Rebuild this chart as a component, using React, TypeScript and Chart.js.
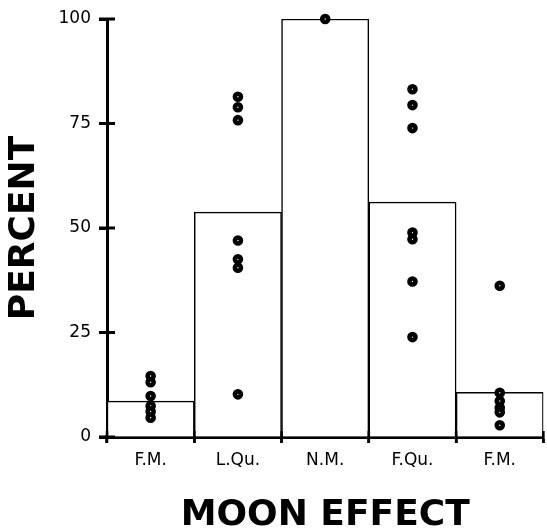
import React, { useEffect, useRef } from "react";
import { Chart, registerables } from "chart.js";

Chart.register(...registerables);

// ---- data ----
const categories = ["F.M.", "L.Qu.", "N.M.", "F.Qu.", "F.M."];
const barValues = [8.6, 53.8, 100, 56.2, 10.7];
const fullMoonAPoints = [14.6, 13.1, 9.8, 7.4, 6.1, 4.6];
const lastQuarterPoints = [81.4, 78.9, 75.8, 47.0, 42.5, 40.5, 10.2];
const newMoonPoints = [100];
const firstQuarterPoints = [83.2, 79.4, 73.9, 48.9, 47.3, 37.2, 23.9];
const fullMoonBPoints = [36.2, 10.6, 8.6, 7.0, 5.9, 2.8];
const yTicks = [0, 25, 50, 75, 100];
const xTitle = "MOON EFFECT";
const yTitle = "PERCENT";

const pointGroups = [fullMoonAPoints, lastQuarterPoints, newMoonPoints, firstQuarterPoints, fullMoonBPoints];

const crossTicks = {
  id: "crossTicks",
  afterDraw(chart: any) {
    const { ctx, scales, chartArea } = chart;
    const x = scales.x;
    const y = scales.y;
    ctx.save();
    ctx.strokeStyle = "#000";
    ctx.lineCap = "butt";
    ctx.lineWidth = 3;
    y.ticks.forEach((t: any) => {
      const py = y.getPixelForValue(t.value);
      ctx.beginPath();
      ctx.moveTo(chartArea.left - 8, py);
      ctx.lineTo(chartArea.left + 8, py);
      ctx.stroke();
    });
    ctx.lineWidth = 2.5;
    for (let i = 0; i <= categories.length; i++) {
      const px = x.getPixelForValue(i - 0.5);
      ctx.beginPath();
      ctx.moveTo(px, chartArea.bottom - 6);
      ctx.lineTo(px, chartArea.bottom + 6);
      ctx.stroke();
    }
    ctx.restore();
  },
};

export default function App() {
  const ref = useRef<HTMLCanvasElement | null>(null);

  useEffect(() => {
    if (!ref.current) return;
    const pts: { x: number; y: number }[] = [];
    pointGroups.forEach((g, i) => g.forEach((v) => pts.push({ x: i + 0.5, y: v })));

    const chart = new Chart(ref.current, {
      type: "bar",
      data: {
        labels: categories,
        datasets: [
          {
            type: "scatter",
            data: pts,
            xAxisID: "x2",
            yAxisID: "y",
            order: 0,
            pointRadius: 3,
            pointBorderWidth: 4.6,
            pointBackgroundColor: "#fff",
            pointBorderColor: "#000",
            clip: false,
          } as any,
          {
            type: "bar",
            data: barValues,
            xAxisID: "x",
            yAxisID: "y",
            order: 1,
            grouped: false,
            backgroundColor: "#fff",
            borderColor: "#000",
            borderWidth: 1.5,
            barPercentage: 1,
            categoryPercentage: 1,
          } as any,
        ],
      },
      options: {
        responsive: false,
        animation: false,
        layout: { padding: { left: 0, top: 19, right: 3, bottom: 0 } },
        plugins: { legend: { display: false }, tooltip: { enabled: false } },
        scales: {
          x: {
            type: "category",
            offset: true,
            grid: {
              offset: true,
              drawOnChartArea: false,
              drawTicks: true,
              tickLength: 6,
              tickColor: "#000",
              tickWidth: 2.5,
            },
            border: { display: true, color: "#000", width: 4 },
            ticks: {
              color: "#000",
              padding: 7,
              font: { family: "DejaVu Sans", size: 17 },
              maxRotation: 0,
              autoSkip: false,
            },
            title: {
              display: true,
              text: xTitle,
              color: "#000",
              font: { family: "DejaVu Sans", size: 36, weight: "bold", lineHeight: 0.8 },
              padding: 0,
            },
            afterFit: (s: any) => {
              s.height = 530 - 437;
            },
          },
          x2: {
            type: "linear",
            display: false,
            offset: false,
            grid: { offset: false },
            min: 0,
            max: categories.length,
          },
          y: {
            type: "linear",
            min: 0,
            max: 100,
            afterBuildTicks: (s: any) => {
              s.ticks = yTicks.map((v) => ({ value: v }));
            },
            grid: {
              drawOnChartArea: false,
              drawTicks: true,
              tickLength: 8,
              tickColor: "#000",
              tickWidth: 3,
            },
            border: { display: true, color: "#000", width: 3 },
            ticks: {
              color: "#000",
              padding: 8,
              font: { family: "DejaVu Sans", size: 17 },
            },
            title: {
              display: true,
              text: yTitle,
              color: "#000",
              font: { family: "DejaVu Sans", size: 36, weight: "bold", lineHeight: 1 },
              padding: { top: 7, bottom: 0 },
            },
            afterFit: (s: any) => {
              s.width = 107;
            },
          },
        },
      },
      plugins: [crossTicks],
    });
    return () => chart.destroy();
  }, []);

  return (
    <div
      style={{
        position: "fixed",
        left: 0,
        top: 0,
        width: 547,
        height: 530,
        overflow: "hidden",
        background: "#fff",
      }}
    >
      <canvas ref={ref} width={552} height={530} style={{ display: "block" }} />
    </div>
  );
}
